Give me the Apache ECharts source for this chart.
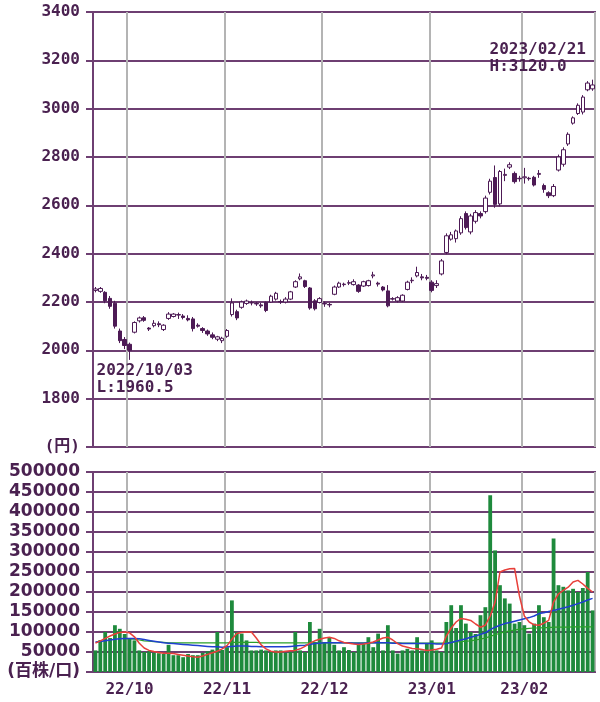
<!DOCTYPE html>
<html>
<head>
<meta charset="utf-8">
<script src="https://cdn.jsdelivr.net/npm/echarts@6/dist/echarts.min.js"></script>
<style>
html,body{margin:0;padding:0;background:#fff;}
#chart{width:600px;height:702px;}
</style>
</head>
<body>
<div id="chart"></div>
<script>
// ---- data ----
const dates = [
'22/09/21','22/09/22','22/09/26','22/09/27','22/09/28','22/09/29','22/09/30',
'22/10/03','22/10/04','22/10/05','22/10/06','22/10/07','22/10/11','22/10/12','22/10/13','22/10/14','22/10/17',
'22/10/18','22/10/19','22/10/20','22/10/21','22/10/24','22/10/25','22/10/26','22/10/27','22/10/28','22/10/31',
'22/11/01','22/11/02','22/11/04','22/11/07','22/11/08','22/11/09','22/11/10','22/11/11','22/11/14','22/11/15',
'22/11/16','22/11/17','22/11/18','22/11/21','22/11/22','22/11/24','22/11/25','22/11/28','22/11/29','22/11/30',
'22/12/01','22/12/02','22/12/05','22/12/06','22/12/07','22/12/08','22/12/09','22/12/12','22/12/13','22/12/14',
'22/12/15','22/12/16','22/12/19','22/12/20','22/12/21','22/12/22','22/12/23','22/12/26','22/12/27','22/12/28',
'22/12/29','22/12/30',
'23/01/04','23/01/05','23/01/06','23/01/10','23/01/11','23/01/12','23/01/13','23/01/16','23/01/17','23/01/18',
'23/01/19','23/01/20','23/01/23','23/01/24','23/01/25','23/01/26','23/01/27','23/01/30','23/01/31',
'23/02/01','23/02/02','23/02/03','23/02/06','23/02/07','23/02/08','23/02/09','23/02/10','23/02/13','23/02/14',
'23/02/15','23/02/16','23/02/17','23/02/20','23/02/21'
];
const opens = [2248,2244,2240,2215,2195,2080,2045,2025,2075,2122,2135,2092,2102,2110,2086,2132,2140,2146,2142,2132,
2130,2104,2090,2080,2064,2046,2040,2058,2148,2160,2178,2194,2196,2194,2188,2198,2200,2212,2202,2200,
2212,2262,2296,2288,2258,2205,2198,2194,2190,2232,2262,2272,2278,2272,2270,2266,2268,2308,2278,2262,
2246,2212,2204,2204,2252,2288,2308,2304,2302,2282,2268,2316,2405,2460,2462,2486,2566,2490,2534,2566,
2574,2654,2715,2606,2724,2758,2732,2712,2714,2712,2716,2728,2682,2652,2640,2746,2770,2854,2940,2980,
2986,3078,3082];
const closes = [2254,2256,2205,2182,2100,2040,2020,2000,2115,2134,2124,2088,2112,2106,2104,2150,2150,2148,2136,2126,
2090,2100,2082,2068,2054,2056,2050,2082,2196,2134,2200,2204,2198,2192,2184,2165,2224,2236,2200,2212,
2242,2284,2304,2264,2175,2172,2214,2192,2188,2262,2278,2274,2280,2284,2244,2284,2288,2312,2274,2250,
2184,2214,2218,2228,2282,2290,2322,2300,2298,2248,2276,2370,2474,2478,2494,2545,2508,2556,2570,2556,
2630,2700,2604,2740,2728,2768,2698,2710,2718,2710,2684,2732,2666,2640,2678,2800,2830,2894,2962,3014,
3048,3106,3098];
const lows = [2240,2238,2195,2172,2090,2030,2005,1960.5,2070,2115,2118,2080,2095,2096,2080,2126,2136,2130,2128,2120,
2078,2094,2072,2060,2046,2038,2030,2052,2140,2125,2172,2188,2186,2184,2176,2158,2196,2206,2192,2194,
2208,2258,2290,2258,2168,2165,2194,2180,2178,2228,2258,2264,2270,2268,2238,2262,2264,2298,2264,2244,
2178,2206,2198,2200,2248,2278,2302,2290,2290,2240,2258,2310,2398,2454,2446,2478,2500,2480,2525,2546,
2566,2645,2590,2596,2700,2750,2690,2698,2690,2702,2678,2714,2652,2630,2634,2740,2760,2846,2934,2974,
2976,3072,3074];
const highs = [2262,2262,2245,2225,2205,2090,2055,2032,2120,2140,2142,2096,2125,2120,2108,2158,2154,2156,2150,2145,
2138,2112,2096,2086,2074,2060,2056,2088,2215,2168,2206,2210,2206,2200,2196,2202,2230,2242,2210,2220,
2246,2290,2318,2292,2262,2212,2220,2202,2196,2268,2284,2280,2290,2294,2274,2288,2292,2325,2284,2266,
2270,2220,2224,2232,2288,2302,2346,2316,2312,2290,2290,2378,2484,2490,2500,2555,2575,2565,2580,2575,
2640,2710,2765,2746,2752,2778,2740,2722,2755,2718,2722,2746,2690,2658,2688,2810,2840,2902,2968,3022,
3056,3114,3120];
const volumes = [54000,80000,100000,85000,117000,108000,95000,83000,79000,54000,50000,52000,48000,47000,45000,68000,42000,42000,37000,45000,
42000,42000,48000,52000,56000,100000,55000,62000,179000,100000,96000,79000,54000,54000,56000,54000,50000,54000,54000,48000,
50000,100000,54000,50000,125000,75000,108000,75000,87000,68000,54000,62000,55000,50000,70000,70000,87000,62000,96000,54000,
117000,54000,46000,54000,58000,54000,87000,54000,70000,79000,54000,50000,125000,167000,110000,167000,121000,100000,95000,142000,
162000,442000,304000,217000,184000,171000,121000,125000,117000,96000,121000,167000,137000,125000,334000,217000,213000,204000,208000,200000,
210000,250000,154000];
const volRed = [72000,78000,84000,90000,95000,99000,100000,98000,88000,72000,60000,54000,51000,49000,47000,47000,46000,44000,42000,40000,
38000,37000,40000,44000,48000,52000,58000,66000,82000,96000,99000,100000,100000,85000,68000,58000,52000,50000,50000,52000,
53000,54000,58000,64000,72000,78000,82000,85000,87000,84000,78000,74000,72000,70000,69000,70000,72000,75000,80000,85000,
87000,80000,71000,65000,62000,59000,58000,56000,54000,55000,57000,60000,90000,110000,125000,134000,132000,129000,120000,112000,
117000,140000,175000,250000,255000,258000,259000,190000,140000,125000,118000,117000,122000,129000,175000,195000,204000,212000,225000,229000,
220000,209000,200000];
const volBlue = [75000,76000,78000,80000,82000,83000,84000,84000,84000,83000,81000,79000,77000,75000,73000,72000,71000,70000,69000,68000,
67000,66000,65000,64000,63000,63000,62000,63000,64000,65000,65000,65000,64000,64000,63000,63000,63000,63000,63000,63000,
64000,65000,66000,67000,69000,71000,72000,73000,73000,73000,73000,73000,73000,72000,72000,72000,73000,73000,73000,73000,
73000,72000,72000,71000,71000,71000,71000,71000,71000,71000,70000,70000,71000,74000,77000,80000,83000,87000,90000,94000,
98000,106000,112000,117000,121000,124000,127000,130000,133000,136000,140000,146000,148000,151000,154000,157000,160000,163000,167000,171000,
175000,180000,184000];
const volGreen = [null,null,null,null,null,null,84000,83000,82000,80000,78000,77000,76000,75000,74000,73000,73000,73000,73000,73000,
73000,73000,73000,73000,73000,73000,73000,73000,74000,74000,74000,74000,74000,74000,73000,73000,73000,73000,73000,73000,
73000,73000,73000,73000,73000,73000,73000,73000,73000,73000,73000,73000,73000,73000,73000,73000,73000,73000,73000,73000,
73000,73000,73000,72000,72000,72000,72000,72000,72000,72000,72000,72000,73000,74000,75000,76000,77000,78000,80000,82000,
85000,89000,93000,97000,100000,103000,105000,107000,108000,109000,110000,110000,111000,111000,112000,112000,112000,112000,113000,113000,
113000,113000,113000];
const priceTicks = {min: 1600, max: 3400, step: 200, unitLabel: '(円)'};
const volTicks = {min: 0, max: 500000, step: 50000, unitLabel: '(百株/口)'};

// ---- styles ----
const PURPLE = '#6e3f72';
const TEXT = '#4a2150';
const CANDLE = '#4d1a55';
const FONT = "'DejaVu Sans Mono', 'Noto Sans CJK JP', monospace";
const FONT_WIDE = "'DejaVu Sans', 'Noto Sans CJK JP', sans-serif";

const candleData = dates.map((d, i) => [opens[i], closes[i], lows[i], highs[i]]);
let iMin = 0, iMax = 0;
lows.forEach((v, i) => { if (v < lows[iMin]) iMin = i; });
highs.forEach((v, i) => { if (v > highs[iMax]) iMax = i; });

const monthStart = (idx) => idx > 0 && dates[idx].slice(0, 5) !== dates[idx - 1].slice(0, 5);

const labelStyle = {color: TEXT, fontFamily: FONT, fontWeight: 'bold', fontSize: 16};
const volLabelStyle = {color: TEXT, fontFamily: FONT_WIDE, fontWeight: 'bold', fontSize: 17};

const option = {
  animation: false,
  backgroundColor: '#ffffff',
  grid: [
    {left: 93, top: 12, width: 502, height: 435, show: true, borderColor: PURPLE, borderWidth: 2, backgroundColor: '#fff'},
    {left: 93, top: 472, width: 502, height: 200, show: true, borderColor: PURPLE, borderWidth: 2, backgroundColor: '#fff'}
  ],
  xAxis: [
    {type: 'category', gridIndex: 0, data: dates, boundaryGap: true,
     axisLine: {show: false}, axisTick: {show: false}, axisLabel: {show: false},
     splitLine: {show: true, interval: monthStart, lineStyle: {color: '#b4b4b4', width: 2}}},
    {type: 'category', gridIndex: 1, data: dates, boundaryGap: true,
     axisLine: {show: true, lineStyle: {color: PURPLE, width: 2}}, axisTick: {show: false},
     axisLabel: Object.assign({interval: monthStart, margin: 10, formatter: v => v.slice(0, 5)}, labelStyle),
     splitLine: {show: true, interval: monthStart, lineStyle: {color: '#b4b4b4', width: 2}}}
  ],
  yAxis: [
    {type: 'value', gridIndex: 0, min: priceTicks.min, max: priceTicks.max, interval: priceTicks.step,
     axisLine: {show: true, lineStyle: {color: PURPLE, width: 2}},
     axisTick: {show: true, length: 7, lineStyle: {color: PURPLE, width: 2}},
     axisLabel: Object.assign({margin: 13, formatter: v => v === priceTicks.min ? priceTicks.unitLabel : String(v)}, labelStyle),
     splitLine: {show: true, lineStyle: {color: PURPLE, width: 2}}},
    {type: 'value', gridIndex: 1, min: volTicks.min, max: volTicks.max, interval: volTicks.step,
     axisLine: {show: true, lineStyle: {color: PURPLE, width: 2}},
     axisTick: {show: true, length: 7, lineStyle: {color: PURPLE, width: 2}},
     axisLabel: Object.assign({margin: 13, formatter: v => v === volTicks.min ? volTicks.unitLabel : String(v)}, volLabelStyle),
     splitLine: {show: true, lineStyle: {color: PURPLE, width: 2}}}
  ],
  series: [
    {type: 'candlestick', xAxisIndex: 0, yAxisIndex: 0, data: candleData, barWidth: 4,
     itemStyle: {color: '#ffffff', color0: CANDLE, borderColor: CANDLE, borderColor0: CANDLE, borderWidth: 1},
     markPoint: {
       symbol: 'circle', symbolSize: 0, silent: true,
       data: [
         {coord: [dates[iMin], lows[iMin]],
          label: Object.assign({show: true, position: [-33, 2], align: 'left', verticalAlign: 'top', lineHeight: 17,
            formatter: '20' + dates[iMin] + '\nL:' + lows[iMin].toFixed(1)}, labelStyle)},
         {coord: [dates[iMax], highs[iMax]],
          label: Object.assign({show: true, position: [-103, -38], align: 'left', verticalAlign: 'top', lineHeight: 17,
            formatter: '20' + dates[iMax] + '\nH:' + highs[iMax].toFixed(1)}, labelStyle)}
       ]
     }},
    {type: 'bar', xAxisIndex: 1, yAxisIndex: 1, data: volumes, barCategoryGap: '22%',
     itemStyle: {color: '#1e8a3c'}},
    {type: 'line', xAxisIndex: 1, yAxisIndex: 1, data: volGreen, symbol: 'none', z: 3,
     lineStyle: {color: '#2aa02a', width: 1.2}},
    {type: 'line', xAxisIndex: 1, yAxisIndex: 1, data: volBlue, symbol: 'none', z: 4,
     lineStyle: {color: '#1f3fd0', width: 1.5}},
    {type: 'line', xAxisIndex: 1, yAxisIndex: 1, data: volRed, symbol: 'none', z: 5,
     lineStyle: {color: '#e8403a', width: 1.5}}
  ]
};

const chart = echarts.init(document.getElementById('chart'), null, {renderer: 'canvas'});
chart.setOption(option);
</script>
</body>
</html>
